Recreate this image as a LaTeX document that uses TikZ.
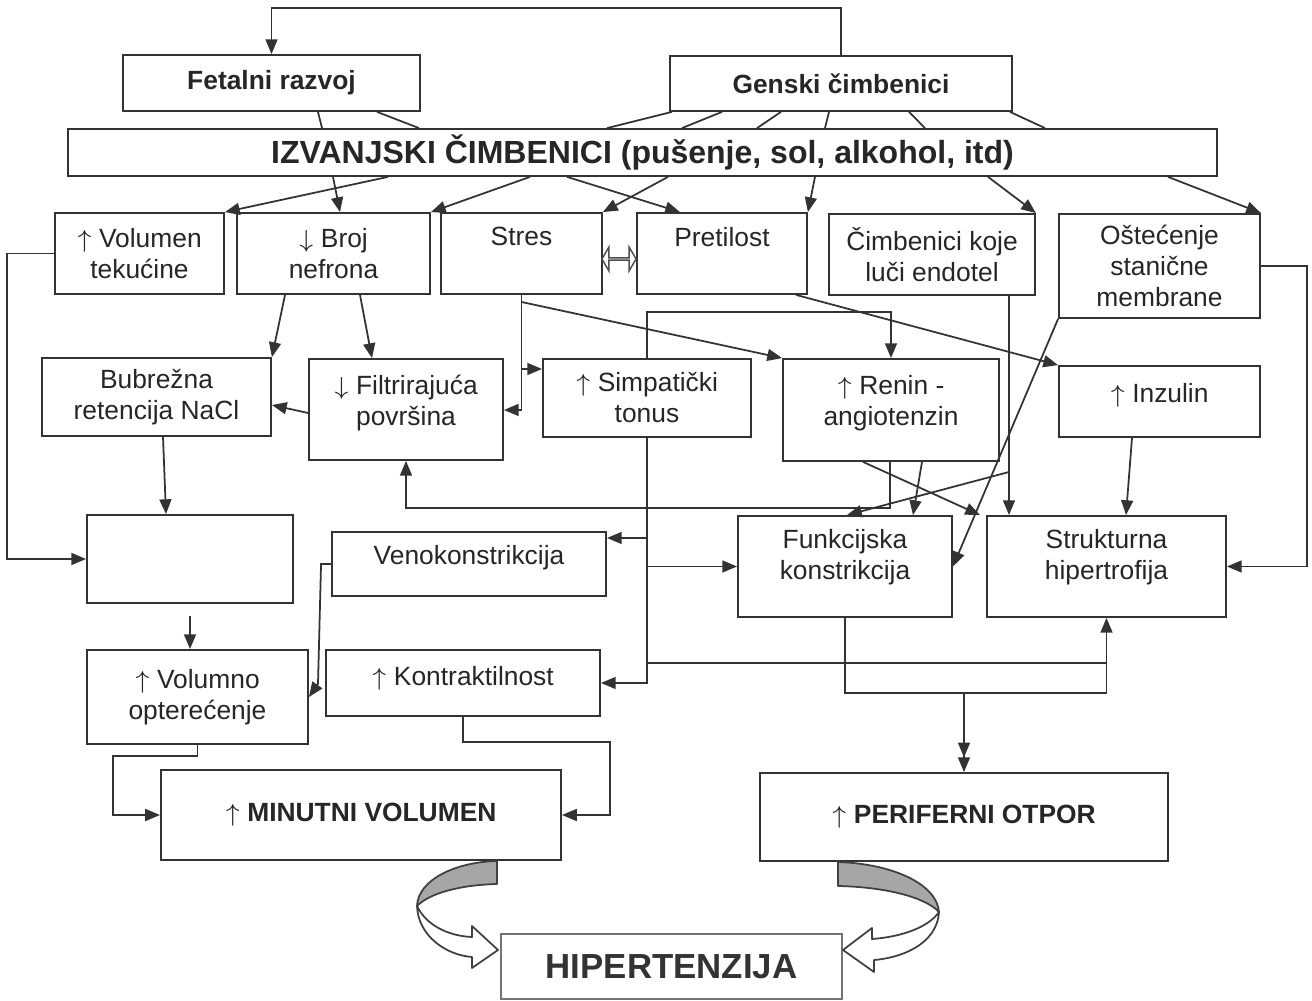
\documentclass[tikz,border=0pt]{standalone}
\usepackage{fontspec}
\setmainfont{Liberation Sans}
\usetikzlibrary{arrows.meta,shapes.arrows}

\newcommand{\gorestr}{$\uparrow$}
\newcommand{\dolestr}{$\downarrow$}

\tikzset{
	box/.style={draw=black!80, line width=0.5pt, fill=white, text=black!85, align=center, inner sep=1pt},
	ln/.style={draw=black!80, line width=0.5pt},
	arr/.style={ln, -{Triangle[length=4.2pt,width=3.4pt]}},
	arrtwo/.style={ln, -{Triangle[length=4.2pt,width=3.4pt] Triangle[length=4.2pt,width=3.4pt]}},
	toptext/.style={anchor=north, align=center, inner sep=0pt, text=black!85},
	ribbon/.style={draw=black!75, line width=0.5pt, line join=round},
	bigbold/.style={font=\bfseries\fontsize{9.1}{10}\selectfont},
	midbold/.style={font=\bfseries\fontsize{7.5}{9}\selectfont},
}

\begin{document}
\begin{tikzpicture}[x=0.01cm, y=-0.01cm, font=\fontsize{7.5}{8.8}\selectfont]
	%%%%% START %%%%%
	\useasboundingbox (0,0) rectangle (1312,1001);
	
	\node[box, midbold, minimum width=2.97cm, minimum height=0.56cm] (fetal) at (271.5,83) {Fetalni razvoj};
	\node[box, midbold, minimum width=3.42cm, minimum height=0.55cm] (genski) at (841,83.5) {Genski čimbenici};
	\node[box, bigbold, minimum width=11.49cm, minimum height=0.47cm] (izv) at (642.5,152.5) {IZVANJSKI ČIMBENICI (pušenje, sol, alkohol, itd)};
	
	\node[box, minimum width=1.69cm, minimum height=0.81cm] (volumen) at (139.5,253.5) {\gorestr{} Volumen\\tekućine};
	\node[box, minimum width=1.93cm, minimum height=0.81cm] (broj) at (333.5,253.5) {\dolestr{} Broj\\nefrona};
	\node[box, minimum width=1.61cm, minimum height=0.81cm, label={[toptext, yshift=-0.145cm]north:Stres}] (stres) at (521.5,253.5) {};
	\node[box, minimum width=1.70cm, minimum height=0.81cm, label={[toptext, yshift=-0.145cm]north:Pretilost}] (pretilost) at (722,253.5) {};
	\node[box, minimum width=2.06cm, minimum height=0.81cm] (endotel) at (932,254.5) {Čimbenici koje\\luči endotel};
	\node[box, minimum width=2.01cm, minimum height=1.04cm] (ostec) at (1159.5,266) {Oštećenje\\stanične\\membrane};
	\node[double arrow, draw=black!70, line width=0.4pt, fill=white, minimum height=0.34cm, minimum width=0.24cm, double arrow head extend=0.065cm, double arrow tip angle=120, inner sep=0pt] (dvostr) at (619,259) {};
	
	\node[box, minimum width=2.29cm, minimum height=0.78cm] (bubrez) at (156.5,397) {Bubrežna\\retencija NaCl};
	\node[box, minimum width=1.94cm, minimum height=1.01cm, label={[toptext, yshift=-0.165cm]north:\dolestr{} Filtrirajuća\\površina}] (filtr) at (406,409.5) {};
	\node[box, minimum width=2.08cm, minimum height=0.78cm] (simpat) at (647,398) {\gorestr{} Simpatički\\tonus};
	\node[box, minimum width=2.16cm, minimum height=1.02cm, label={[toptext, yshift=-0.165cm]north:\gorestr{} Renin -\\angiotenzin}] (renin) at (891,410) {};
	\node[box, minimum width=2.01cm, minimum height=0.71cm, label={[toptext, yshift=-0.175cm]north:\gorestr{} Inzulin}] (inzulin) at (1159.5,401.5) {};
	
	\node[box, minimum width=2.06cm, minimum height=0.88cm] (blank) at (190,559) {};
	\node[box, minimum width=2.74cm, minimum height=0.64cm, label={[toptext, yshift=-0.135cm]north:Venokonstrikcija}] (veno) at (469,564) {};
	\node[box, minimum width=2.14cm, minimum height=1.01cm, label={[toptext, yshift=-0.135cm]north:Funkcijska\\konstrikcija}] (funk) at (845,566.5) {};
	\node[box, minimum width=2.39cm, minimum height=1.01cm, label={[toptext, yshift=-0.135cm]north:Strukturna\\hipertrofija}] (strukt) at (1106.5,566.5) {};
	
	\node[box, minimum width=2.21cm, minimum height=0.94cm] (volumno) at (197.5,697) {\gorestr{} Volumno\\opterećenje};
	\node[box, minimum width=2.74cm, minimum height=0.66cm, label={[toptext, yshift=-0.165cm]north:\gorestr{} Kontraktilnost}] (kontr) at (463,683) {};
	
	\node[box, midbold, minimum width=4.00cm, minimum height=0.90cm] (minut) at (361,815) {\gorestr{} MINUTNI VOLUMEN};
	\node[box, midbold, minimum width=4.08cm, minimum height=0.88cm] (perif) at (964,817) {\gorestr{} PERIFERNI OTPOR};
	\node[box, draw=black!55, text=black!80, font=\bfseries\fontsize{9.9}{11}\selectfont, minimum width=3.41cm, minimum height=0.65cm] (hiper) at (671.5,966.5) {HIPERTENZIJA};
	
	% top
	\draw[arr] (genski.north) -- ++(0,-47) -| (fetal.north);
	\draw[ln] (318,0 |- fetal.south) -- (322,0 |- izv.north);
	\draw[ln] (377,0 |- fetal.south) -- (419,0 |- izv.north);
	\draw[ln] (672,0 |- genski.south) -- (607,0 |- izv.north);
	\draw[ln] (722,0 |- genski.south) -- (682,0 |- izv.north);
	\draw[ln] (781,0 |- genski.south) -- (757,0 |- izv.north);
	\draw[ln] (829,0 |- genski.south) -- (825,0 |- izv.north);
	\draw[ln] (909,0 |- genski.south) -- (925,0 |- izv.north);
	\draw[ln] (1010,0 |- genski.south) -- (1045,0 |- izv.north);
	
	\draw[arr] (388,0 |- izv.south) -- (volumen.north east);
	\draw[arr] (333,0 |- izv.south) -- (340,0 |- broj.north);
	\draw[arr] (530,0 |- izv.south) -- (broj.north east);
	\draw[arr] (668,0 |- izv.south) -- (stres.north east);
	\draw[arr] (567,0 |- izv.south) -- (680,0 |- pretilost.north);
	\draw[arr] (815,0 |- izv.south) -- (pretilost.north east);
	\draw[arr] (988,0 |- izv.south) -- (endotel.north east);
	\draw[arr] (1168,0 |- izv.south) -- (ostec.north east);
	
	% middle
	\draw[arr] (285,0 |- broj.south) -- (bubrez.north east);
	\draw[arr] (360,0 |- broj.south) -- (372,0 |- filtr.north);
	\draw[arr] (filtr.west |- 0,413) -- (bubrez.east |- 0,405);
	\draw[arr] (stres.south) -- (stres.south |- 0,410) -- (filtr.east |- 0,410);
	\draw[arr] (stres.south |- 0,369) -- (simpat.west |- 0,369);
	\draw[arr] (stres.south |- 0,302) -- (renin.north west);
	\draw[arr] (796,0 |- pretilost.south) -- (inzulin.north west);
	\draw[arr] (simpat.north) -- (simpat.north |- 0,312) -| (renin.north);
	\draw[arr] (1009,0 |- endotel.south) -- (1009,0 |- strukt.north);
	\draw[arr] (1009,472) -- (847,0 |- funk.north);
	\draw[arr] (890,0 |- renin.south) |- (filtr.south |- 0,508) -- (filtr.south);
	\draw[arr] (922,0 |- renin.south) -- (913,0 |- funk.north);
	\draw[arr] (863,0 |- renin.south) -- (980,0 |- strukt.north);
	\draw[arr] (ostec.south west) -- (funk.east);
	\draw[arr] (ostec.east) -- (1307,0 |- ostec.east) |- (strukt.east);
	\draw[arr] (1132,0 |- inzulin.south) -- (1126,0 |- strukt.north);
	
	\draw[arr] (volumen.west) -- (7,0 |- volumen.west) |- (blank.west);
	\draw[arr] (163,0 |- bubrez.south) -- (166,0 |- blank.north);
	\coordinate (praznina) at ([yshift=-0.12cm]blank.south);
	\draw[arr] (praznina) -- (praznina |- volumno.north);
	
	\draw[arr] (simpat.south) |- (kontr.east);
	\draw[arr] (simpat.south |- 0,538) -- (veno.east |- 0,538);
	\draw[arr] (simpat.south |- funk.west) -- (funk.west);
	\draw[arr] (simpat.south |- 0,663) -| (strukt.south);
	\draw[arr] (veno.west) -- ++(-10,0) -- (318,684) -- (volumno.east);
	
	% bottom
	\draw[ln] (funk.south) |- (strukt.south |- 0,693) -- (strukt.south |- 0,663);
	\draw[arrtwo] (perif.north |- 0,693) -- (perif.north);
	\draw[arr] (volumno.south) |- (113,756) |- (minut.west);
	\draw[arr] (kontr.south) |- (610,742) |- (minut.east);
	
	\filldraw[ribbon, fill=black!35] (497,861) .. controls (455,862) and (418,880) .. (417,906) .. controls (430,893) and (460,885) .. (497,884) -- cycle;
	\filldraw[ribbon, fill=white] (417,906) .. controls (418,935) and (445,955) .. (472,957) -- (472,968) -- (498,950) -- (472,926) -- (472,937) .. controls (448,936) and (426,925) .. (417,906) -- cycle;
	\filldraw[ribbon, fill=black!35] (838,862) .. controls (895,864) and (937,885) .. (939,912) .. controls (925,897) and (885,887) .. (838,886) -- cycle;
	\filldraw[ribbon, fill=white] (939,912) .. controls (937,945) and (900,958) .. (874,960) -- (874,972) -- (843,950) -- (872,928) -- (872,939) .. controls (900,937) and (928,928) .. (939,912) -- cycle;
	
	%%%%% END %%%%%
\end{tikzpicture}
\end{document}
